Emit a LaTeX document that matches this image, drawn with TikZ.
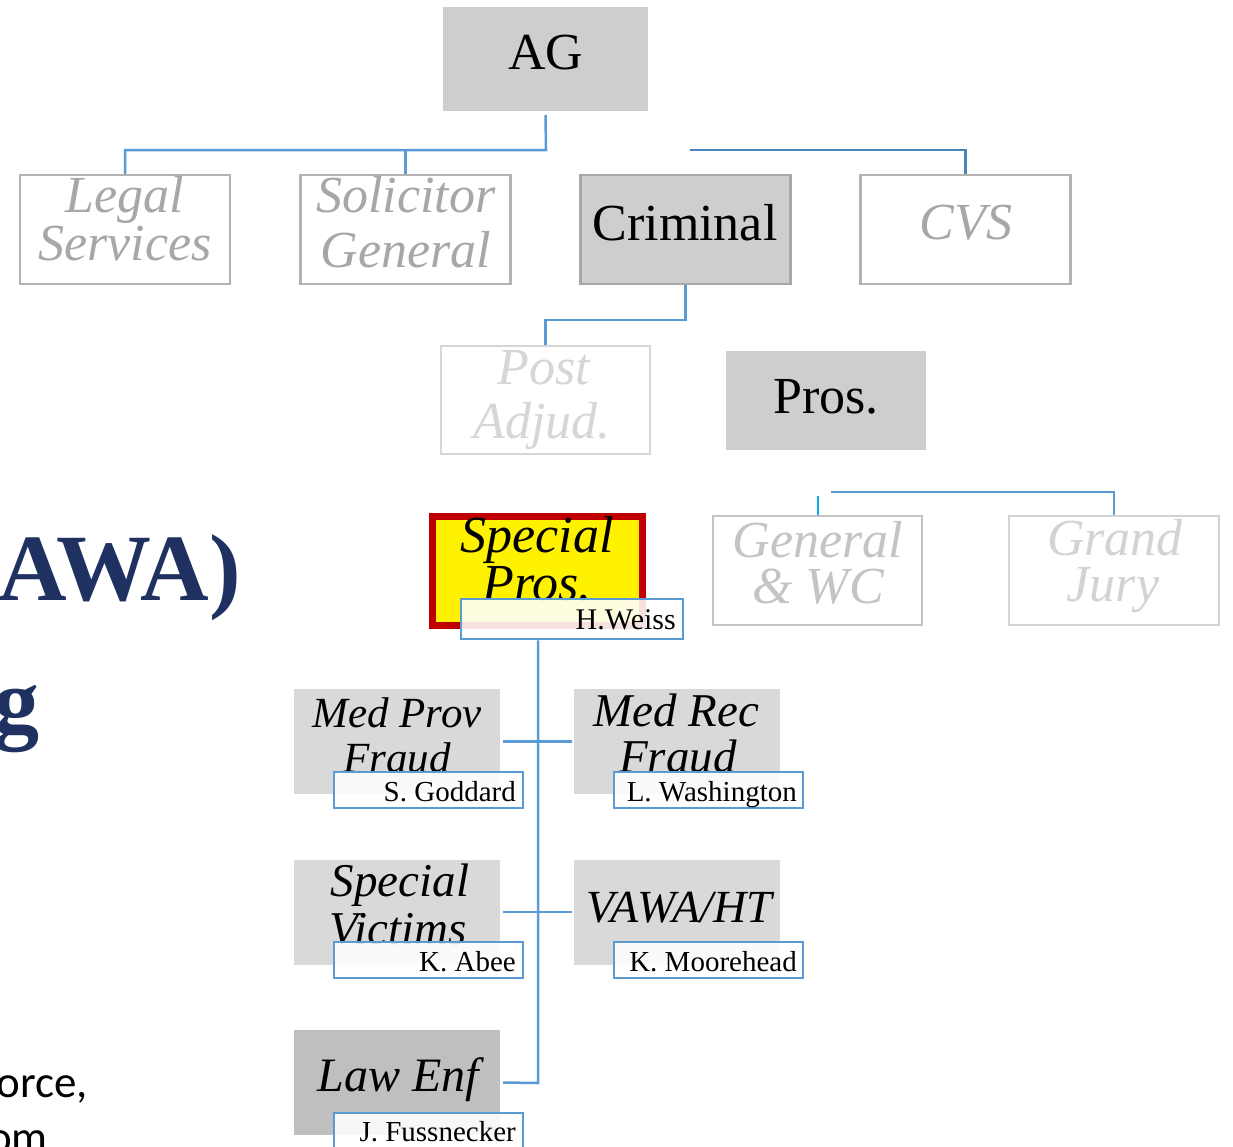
\documentclass[tikz,border=0pt]{standalone}
\usepackage{fontspec}
\setmainfont{Liberation Serif}
\newfontfamily\calibfont{Carlito}
\newcommand\fsz[1]{\fontsize{#1}{#1}\selectfont}
\definecolor{hdgray}{HTML}{CFCDCE}
\definecolor{subgray}{HTML}{D9D9D9}
\definecolor{lawgray}{HTML}{BFBFBF}
\definecolor{rimgray}{HTML}{B3B1B1}
\definecolor{crimrim}{HTML}{A9A7A7}
\definecolor{txtgray}{HTML}{A8A6A6}
\definecolor{paleA}{HTML}{C4C4C4}
\definecolor{paleB}{HTML}{D3D3D3}
\definecolor{paleC}{HTML}{D6D6D6}
\definecolor{linkblue}{HTML}{5B9BD5}
\definecolor{linkdark}{HTML}{4A84BF}
\definecolor{linkcyan}{HTML}{00B0F0}
\definecolor{alertred}{HTML}{C00000}
\definecolor{navy}{HTML}{1F3160}
\begin{document}
\begin{tikzpicture}[x=1pt,y=-1pt,
  unit/.style={rectangle,inner sep=0pt,minimum width=#1},
  unit/.default=210,
  outlined/.style={draw=rimgray,line width=2.5pt,fill=white},
  filled/.style={fill=hdgray},
  subunit/.style={rectangle,inner sep=0pt,minimum width=206,minimum height=105,fill=subgray},
  namebox/.style={rectangle,inner sep=0pt,minimum width=189,minimum height=36,
    draw=linkblue,line width=2.5pt,fill=white,fill opacity=0.88},
  lbl/.style={anchor=base,inner sep=0pt},
  namelbl/.style={anchor=base east,inner sep=0pt,font=\fsz{29}},
  link/.style={draw=linkblue,line width=2.5pt},
]
\useasboundingbox[fill=white] (0,0) rectangle (1233,1146);

% ---- left-hand slide text
\node[anchor=base east,inner sep=0pt,text=navy,font=\fsz{95}\bfseries] (ttl1) at (241,600) {AWA)};
\node[anchor=base east,inner sep=0pt,text=navy,font=\fsz{92}\bfseries] (ttl2) at (40,732) {g};
\node[anchor=base east,inner sep=0pt,font=\calibfont\fsz{45}] (bod1) at (88,1097) {orce,};
\node[anchor=base east,inner sep=0pt,font=\calibfont\fsz{45}] (bod2) at (48,1152) {om};

% ---- boxes
\node[unit=205,minimum height=104,filled] (ag) at (545.5,59) {};
\node[unit,minimum height=109,outlined] (legal) at (125,229.5) {};
\node[unit,minimum height=109,outlined] (sol) at (405.5,229.5) {};
\node[unit,minimum height=109,filled,draw=crimrim,line width=2.5pt] (crim) at (685.5,229.5) {};
\node[unit,minimum height=109,outlined] (cvs) at (965.5,229.5) {};
\node[unit=209,minimum height=108,outlined,draw=paleC] (post) at (545.5,400) {};
\node[unit=200,minimum height=99,filled] (pros) at (826,400.5) {};
\node[unit=209,minimum height=109,outlined,draw=paleA] (gen) at (817.5,570.5) {};
\node[unit,minimum height=109,outlined,draw=paleB] (gj) at (1114,570.5) {};

% ---- connectors
\coordinate (agbus) at (546,150);
\coordinate (cvsend) at (690,150);
\coordinate (crimbus) at (686,320);
\coordinate (gentop) at (818,496);
\coordinate (gjbus) at (831,492);
\coordinate (trunkend) at (538,1083);
\draw[link] ([yshift=-4pt]ag.south) -- (agbus) -| (legal.north);
\draw[link] (sol.north) -- (sol.north |- agbus);
\draw[link,draw=linkdark] (cvsend) -| (cvs.north);
\draw[link] (crim.south) -- (crim.south |- crimbus) -| (post.north);
\draw[link,draw=linkcyan] (gentop) -- (gentop |- gen.north);
\draw[link] (gjbus) -| (gj.north);

% ---- special prosecutions and its units
\node[unit=210,minimum height=109,draw=alertred,line width=7pt,fill=yellow] (spros) at (537.5,571) {};
\node[lbl,font=\fsz{52}\itshape] (spros-a) at (537,552) {Special};
\node[lbl,font=\fsz{52}\itshape] (spros-b) at (537,600) {Pros.};
\node[namebox,minimum width=222,minimum height=40] (hw) at (572,619) {};
\node[namelbl,font=\fsz{30}] (hw-t) at (676,629) {H.Weiss};

\node[subunit] (mp) at (397,741.5) {};
\node[subunit] (mr) at (677,741.5) {};
\node[subunit] (sv) at (397,912) {};
\node[subunit] (vh) at (677,912) {};
\node[subunit,fill=lawgray] (le) at (397,1082.5) {};

\draw[link] (hw.south -| trunkend) -- (trunkend) -- ([xshift=3pt]le.east);
\draw[link] ([xshift=3pt]mp.east) -- ([xshift=-2pt]mr.west);
\draw[link] ([xshift=3pt]sv.east) -- ([xshift=-2pt]vh.west);

% ---- box texts
\node[lbl,font=\fsz{52}] (ag-t) at (546,69) {AG};
\node[lbl,font=\fsz{52}\itshape,text=txtgray] (legal-a) at (125,212) {Legal};
\node[lbl,font=\fsz{52}\itshape,text=txtgray] (legal-b) at (125,260) {Services};
\node[lbl,font=\fsz{52}\itshape,text=txtgray] (sol-a) at (406,212) {Solicitor};
\node[lbl,font=\fsz{52}\itshape,text=txtgray] (sol-b) at (406,267) {General};
\node[lbl,font=\fsz{52}] (crim-t) at (685,240) {Criminal};
\node[lbl,font=\fsz{52}\itshape,text=txtgray] (cvs-t) at (966,239) {CVS};
\node[lbl,font=\fsz{52}\itshape,text=paleC] (post-a) at (544,384) {Post};
\node[lbl,font=\fsz{52}\itshape,text=paleC] (post-b) at (542,438) {Adjud.};
\node[lbl,font=\fsz{52}] (pros-t) at (826,413) {Pros.};
\node[lbl,font=\fsz{52}\itshape,text=paleA] (gen-a) at (818,557) {General};
\node[lbl,font=\fsz{52}\itshape,text=paleA] (gen-b) at (818,603) {\& WC};
\node[lbl,font=\fsz{52}\itshape,text=paleB] (gj-a) at (1115,555) {Grand};
\node[lbl,font=\fsz{52}\itshape,text=paleB] (gj-b) at (1113,601) {Jury};

\node[lbl,font=\fsz{43}\itshape] (mp-a) at (397,727) {Med Prov};
\node[lbl,font=\fsz{43}\itshape] (mp-b) at (397,772) {Fraud};
\node[lbl,font=\fsz{47}\itshape] (mr-a) at (676,726) {Med Rec};
\node[lbl,font=\fsz{47}\itshape] (mr-b) at (678,772) {Fraud};
\node[lbl,font=\fsz{47}\itshape] (sv-a) at (400,896) {Special};
\node[lbl,font=\fsz{47}\itshape] (sv-b) at (398,944) {Victims};
\node[lbl,font=\fsz{46}\itshape] (vh-t) at (679,922) {VAWA/HT};
\node[lbl,font=\fsz{48}\itshape] (le-t) at (398,1091) {Law Enf};

% ---- name tags
\node[namebox] (mpn) at (428.5,790) {};
\node[namebox] (mrn) at (708.5,790) {};
\node[namebox] (svn) at (428.5,960) {};
\node[namebox] (vhn) at (708.5,960) {};
\node[namebox] (len) at (428.5,1131) {};
\node[namelbl] (mpn-t) at (516,801) {S. Goddard};
\node[namelbl] (mrn-t) at (797,801) {L. Washington};
\node[namelbl] (svn-t) at (516,971) {K. Abee};
\node[namelbl] (vhn-t) at (797,971) {K. Moorehead};
\node[namelbl] (len-t) at (516,1141) {J. Fussnecker};
\end{tikzpicture}
\end{document}
